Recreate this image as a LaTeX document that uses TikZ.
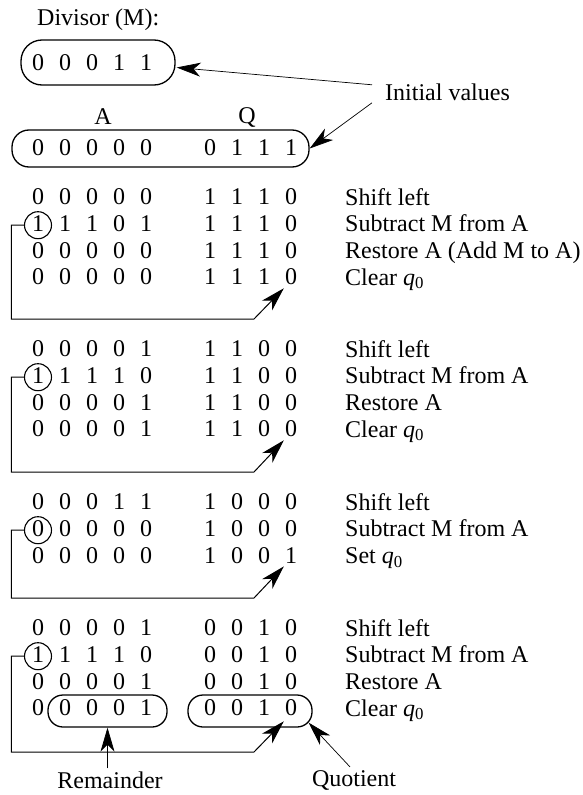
\documentclass[tikz,border=0pt]{standalone}
\usepackage{fontspec}
\setmainfont{Liberation Serif}
\usetikzlibrary{arrows.meta,calc,positioning}

% one line of the table: name, y, bits of A, bits of Q, step text
\newcommand{\bitrow}[5]{%
  \foreach \d [count=\i] in {#3} {\node[bit] (#1a\i) at ({11+27*\i},#2) {\d};}
  \foreach \d [count=\i] in {#4} {\node[bit] (#1q\i) at ({183+27*\i},#2) {\d};}
  \node[op] (#1op) at (345,#2+8) {#5};
}
\newcommand{\qz}{\textit{q}\textsubscript{0}}

\begin{document}
\begin{tikzpicture}[x=1pt,y=-1pt,
  font=\fontsize{24}{28}\selectfont,
  bit/.style={inner sep=0pt},
  op/.style={anchor=base west, inner sep=0pt},
  regbox/.style={draw, line width=1.3pt, inner sep=0pt},
  ring/.style={draw, circle, line width=1.1pt, minimum size=27pt, inner sep=0pt},
  ptr/.style={-{Stealth[length=24pt,width=14pt,inset=7pt]}, line width=0.7pt},
  loopline/.style={-{Stealth[length=24pt,width=14pt,inset=7pt]}, line width=1pt}]
 \useasboundingbox (0,0) rectangle (582,795);

 % initial values
 \node[op] (divlab) at (37,25) {Divisor (M):};
 \node[regbox, minimum width=154pt, minimum height=45pt, rounded corners=21pt] (Mbox) at (98,62.5) {};
 \foreach \d [count=\i] in {0,0,0,1,1} {\node[bit] (m\i) at ({11+27*\i},63) {\d};}

 \node[bit] (alab) at (103,117) {A};
 \node[bit] (qlab) at (247,117) {Q};
 \node[regbox, minimum width=297pt, minimum height=37pt, rounded corners=17pt] (AQbox) at (160.5,148.5) {};
 \bitrow{init}{148}{0,0,0,0,0}{0,1,1,1}{}

 \node[op] (initlab) at (385,100) {Initial values};
 \draw[ptr] ([shift={(-13,-7)}]initlab.west) -- ([shift={(1,5)}]Mbox.east);
 \draw[ptr] ([shift={(-13,11)}]initlab.west) -- (AQbox.east);

 % first cycle
 \bitrow{b1r1}{197}{0,0,0,0,0}{1,1,1,0}{Shift left}
 \bitrow{b1r2}{223.7}{1,1,1,0,1}{1,1,1,0}{Subtract M from A}
 \bitrow{b1r3}{250.3}{0,0,0,0,0}{1,1,1,0}{Restore A (Add M to A)}
 \bitrow{b1r4}{277}{0,0,0,0,0}{1,1,1,0}{Clear \qz}
 \node[ring] (c1) at ([yshift=-1.5pt]b1r2a1) {};
 \draw[loopline] (c1.west) -- ++(-12.5,0) |- (254,319) -- ([shift={(-1,3)}]b1r4q4.south west);

 % second cycle
 \bitrow{b2r1}{349}{0,0,0,0,1}{1,1,0,0}{Shift left}
 \bitrow{b2r2}{375.7}{1,1,1,1,0}{1,1,0,0}{Subtract M from A}
 \bitrow{b2r3}{402.3}{0,0,0,0,1}{1,1,0,0}{Restore A}
 \bitrow{b2r4}{429}{0,0,0,0,1}{1,1,0,0}{Clear \qz}
 \node[ring] (c2) at ([yshift=-1.5pt]b2r2a1) {};
 \draw[loopline] (c2.west) -- ++(-12.5,0) |- (254,472) -- ([shift={(-1,3)}]b2r4q4.south west);

 % third cycle
 \bitrow{b3r1}{502}{0,0,0,1,1}{1,0,0,0}{Shift left}
 \bitrow{b3r2}{528.7}{0,0,0,0,0}{1,0,0,0}{Subtract M from A}
 \bitrow{b3r3}{555.3}{0,0,0,0,0}{1,0,0,1}{Set \qz}
 \node[ring] (c3) at ([yshift=-1.5pt]b3r2a1) {};
 \draw[loopline] (c3.west) -- ++(-12.5,0) |- (254,598) -- ([shift={(-1,3)}]b3r3q4.south west);

 % fourth cycle
 \bitrow{b4r1}{628}{0,0,0,0,1}{0,0,1,0}{Shift left}
 \bitrow{b4r2}{654.7}{1,1,1,1,0}{0,0,1,0}{Subtract M from A}
 \bitrow{b4r3}{681.3}{0,0,0,0,1}{0,0,1,0}{Restore A}
 \bitrow{b4r4}{708}{0,0,0,0,1}{0,0,1,0}{Clear \qz}
 \node[ring] (c4) at ([yshift=-1.5pt]b4r2a1) {};
 \node[regbox, minimum width=119pt, minimum height=32pt, rounded corners=15pt] (Rbox) at (107.5,711) {};
 \node[regbox, minimum width=124pt, minimum height=32pt, rounded corners=15pt] (Qbox) at (250,711) {};
 \draw[loopline] (c4.west) -- ++(-12.5,0) |- (254,752) -- ([shift={(-1,5)}]b4r4q4.south west);

 % results
 \node[bit, inner sep=3pt] (remlab) at (110,780) {Remainder};
 \node[bit, inner sep=3pt] (quolab) at (354,780) {Quotient};
 \draw[ptr] (remlab.north -| Rbox.south) -- (Rbox.south);
 \draw[ptr] ([xshift=-4pt]quolab.north) -- ([shift={(-4,-5)}]Qbox.south east);
\end{tikzpicture}
\end{document}
